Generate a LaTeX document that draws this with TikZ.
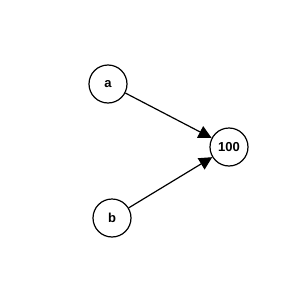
\documentclass[tikz,border=0pt]{standalone}
\usepackage{fontspec}
\setmainfont{Liberation Sans}
\usetikzlibrary{arrows.meta}
\begin{document}
\begin{tikzpicture}[x=1pt,y=1pt,
  vert/.style={circle,draw,line width=1.2pt,minimum size=38pt,inner sep=0pt,font=\fontsize{13}{15}\selectfont\bfseries},
  edge/.style={line width=1.2pt,-{Triangle[length=13pt,width=13pt]}}]
\useasboundingbox (0,0) rectangle (300,-300);
\node[vert] (a) at (108,-84) {a};
\node[vert] (c) at (229,-147) {100};
\node[vert] (b) at (112,-218) {b};
\draw[edge] (a) -- (c);
\draw[edge] (b) -- (c);
\end{tikzpicture}
\end{document}
